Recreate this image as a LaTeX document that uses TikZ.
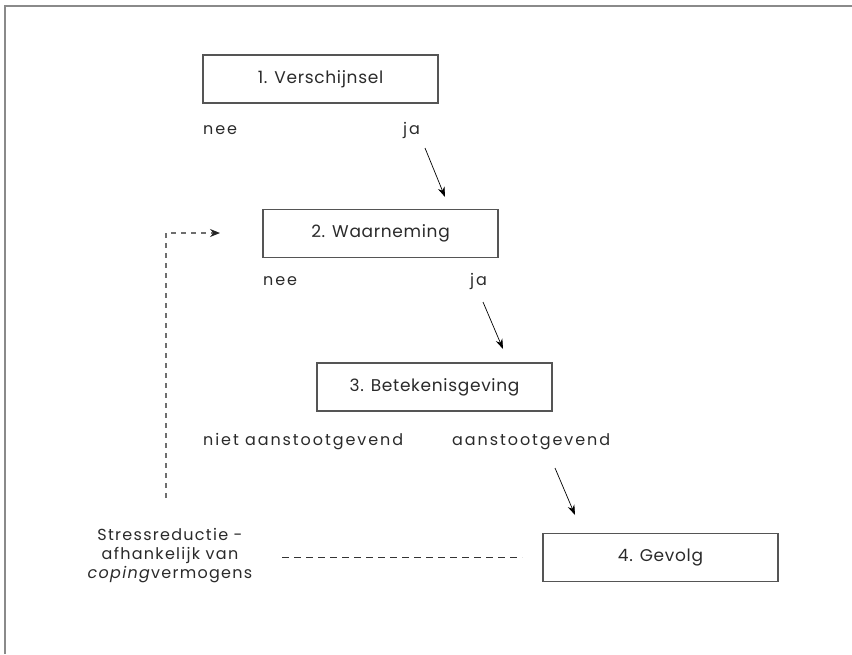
\documentclass[tikz,border=0pt]{standalone}
\usepackage{fontspec}
\setmainfont{Poppins}
\newfontfamily\lblfont[LetterSpace=12]{Poppins}
\newfontfamily\boxfont[LetterSpace=4]{Poppins}
\newfontfamily\stressfont[LetterSpace=8]{Poppins}
\usetikzlibrary{arrows.meta,calc}
\definecolor{boxgrey}{HTML}{555555}
\definecolor{frame}{HTML}{8A8A8A}
\definecolor{txt}{HTML}{2A2A2A}
\begin{document}
\begin{tikzpicture}[x=1pt,y=-1pt,
  stepbox/.style={draw=boxgrey,line width=1.3pt,minimum width=235pt,minimum height=48pt,inner sep=0pt,font=\boxfont\fontsize{17}{19}\selectfont,text=txt},
  lbl/.style={font=\lblfont\fontsize{16}{19}\selectfont,text=txt,inner sep=0pt},
  arr/.style={line width=0.7pt,-{Stealth[length=10pt,width=7pt]}},
  ]
\useasboundingbox (0,0) rectangle (852,654);
\draw[frame,line width=1.2pt] (5,654) -- (5,6) -- (852,6);

\node[stepbox] (b1) at (320.5,79) {1. Verschijnsel};
\node[stepbox] (b2) at (380.5,233.5) {2. Waarneming};
\node[stepbox] (b3) at (434.5,387) {3. Betekenisgeving};
\node[stepbox] (b4) at (660.5,557.5) {4. Gevolg};

\node[lbl,anchor=west] (nee1) at (203,130) {nee};
\node[lbl,anchor=west] (ja1) at (403,130) {ja};
\node[lbl,anchor=west] (nee2) at (263,281) {nee};
\node[lbl,anchor=west] (ja2) at (470,281) {ja};
\node[lbl,anchor=west] (niet) at (203,442) {niet aanstootgevend};
\node[lbl,anchor=west] (aan) at (452,442) {aanstootgevend};

\node[align=center,inner sep=0pt,text=txt,font=\stressfont\fontsize{16}{19}\selectfont] (stress) at (170,556) {Stressreductie -\\afhankelijk van\\\textit{coping}vermogens};

\coordinate (a1s) at (425,148); \coordinate (a1e) at (445,197);
\coordinate (a2s) at (483,302); \coordinate (a2e) at (503,349);
\coordinate (a3s) at (555,468); \coordinate (a3e) at (575,515);
\draw[arr] (a1s) -- (a1e);
\draw[arr] (a2s) -- (a2e);
\draw[arr] (a3s) -- (a3e);

\coordinate (fb0) at (166,498);
\coordinate (fb1) at (166,233);
\coordinate (fb2) at (220,233);
\coordinate (fbh) at (218,233);
\draw[frame!80!black,line width=1.2pt,dash pattern=on 5pt off 5pt] (fb0) -- (fb1) -- (fb2);
\draw[line width=1.2pt,-{Stealth[length=10pt,width=8pt]},black!85] (fbh) -- (fb2);

\coordinate (d0) at (282,557); \coordinate (d1) at (522,557);
\draw[black!80,line width=0.8pt,dash pattern=on 7pt off 5pt] (d0) -- (d1);
\end{tikzpicture}
\end{document}
